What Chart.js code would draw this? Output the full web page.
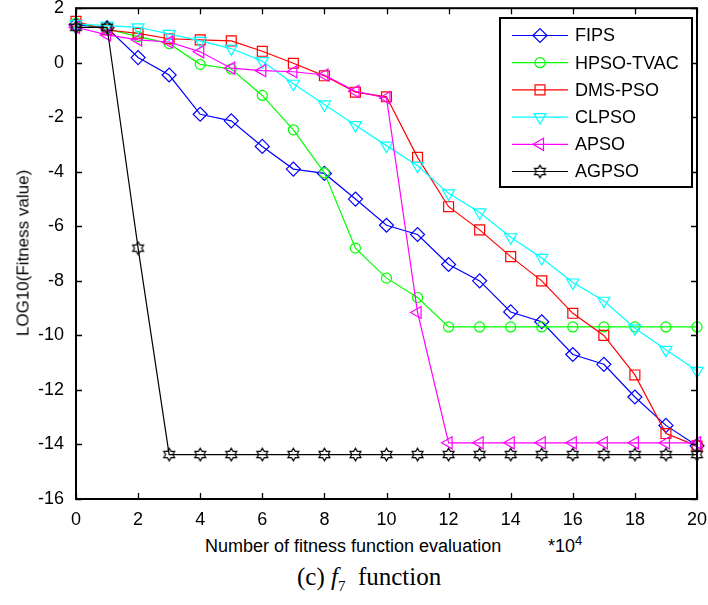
<!DOCTYPE html>
<html><head><meta charset="utf-8">
<script src="https://cdn.jsdelivr.net/npm/chart.js@4"></script>
<style>
html,body{margin:0;padding:0;background:#fff;}
body{width:708px;height:605px;overflow:hidden;position:relative;font-family:"Liberation Sans",Arial,sans-serif;color:#000;}
#wrap{position:absolute;left:0;top:0;width:708px;height:530px;}
.t{position:absolute;white-space:nowrap;color:#000;line-height:1;}
#ytitle{left:23px;top:253px;font-size:17px;transform:translate(-50%,-50%) rotate(-90deg);}
#xtitle{left:205px;top:537px;font-size:18px;}
#xmult{left:548px;top:537px;font-size:18px;}
#xmult sup{font-size:13px;vertical-align:0;position:relative;top:-7px;}
#caption{left:297px;top:564px;font-family:"Liberation Serif","Times New Roman",serif;font-size:25px;}
#caption sub{font-size:15px;vertical-align:0;position:relative;top:6px;}
</style></head><body>
<div id="wrap"><canvas id="c" width="708" height="530"></canvas></div>
<div class="t" id="ytitle">LOG10(Fitness value)</div>
<div class="t" id="xtitle">Number of fitness function evaluation</div>
<div class="t" id="xmult">*10<sup>4</sup></div>
<div class="t" id="caption">(c) <i>f</i><sub>7</sub>&nbsp; function</div>
<script>
// ---- data ----
const evaluations = [0,1,2,3,4,5,6,7,8,9,10,11,12,13,14,15,16,17,18,19,20];
const seriesNames = ["FIPS","HPSO-TVAC","DMS-PSO","CLPSO","APSO","AGPSO"];
const fips  = [1.40,1.28,0.19,-0.45,-1.89,-2.13,-3.07,-3.90,-4.06,-5.00,-5.96,-6.30,-7.40,-8.00,-9.14,-9.50,-10.70,-11.06,-12.26,-13.30,-14.05];
const hpso  = [1.45,1.24,0.96,0.70,-0.06,-0.23,-1.20,-2.46,-4.04,-6.80,-7.90,-8.61,-9.69,-9.69,-9.69,-9.69,-9.69,-9.69,-9.69,-9.69,-9.69];
const dms   = [1.52,1.20,1.08,0.88,0.84,0.80,0.42,-0.02,-0.48,-1.08,-1.25,-3.47,-5.28,-6.13,-7.11,-8.00,-9.19,-10.00,-11.45,-13.60,-14.05];
const clpso = [1.42,1.36,1.30,1.06,0.80,0.52,0.06,-0.77,-1.53,-2.29,-3.04,-3.78,-4.79,-5.49,-6.40,-7.16,-8.06,-8.73,-9.74,-10.53,-11.30];
const apso  = [1.30,1.02,0.84,0.76,0.40,-0.20,-0.29,-0.33,-0.45,-1.05,-1.29,-9.16,-13.94,-13.94,-13.94,-13.94,-13.94,-13.94,-13.94,-13.94,-13.94];
const agpso = [1.30,1.30,-6.80,-14.37,-14.37,-14.37,-14.37,-14.37,-14.37,-14.37,-14.37,-14.37,-14.37,-14.37,-14.37,-14.37,-14.37,-14.37,-14.37,-14.37,-14.37];
const xTicks = [0,2,4,6,8,10,12,14,16,18,20];
const yTicks = [-16,-14,-12,-10,-8,-6,-4,-2,0,2];

// hexagram marker
function hexagram(color){
  const c=document.createElement('canvas'); c.width=15; c.height=15;
  const g=c.getContext('2d'); g.strokeStyle=color; g.lineWidth=1.2;
  const cx=7.5, cy=7.5, R=6.3, r=R/Math.sqrt(3);
  g.beginPath();
  for(let k=0;k<12;k++){
    const a=-Math.PI/2 + k*Math.PI/6; const rr=(k%2===0)?R:r;
    const px=cx+rr*Math.cos(a), py=cy+rr*Math.sin(a);
    if(k===0) g.moveTo(px,py); else g.lineTo(px,py);
  }
  g.closePath(); g.stroke();
  return c;
}
const seriesValues=[fips,hpso,dms,clpso,apso,agpso];
const colors=['#0000ff','#00ff00','#ff0000','#00ffff','#ff00ff','#000000'];
const styles=['rectRot','circle','rect','triangle','triangle',hexagram('#000')];
const rotations=[0,0,0,180,-90,0];
const radii=[7,5,7,7,7,7];

const datasets=seriesNames.map((n,i)=>({
  label:n,
  data:evaluations.map((x,j)=>({x:x,y:seriesValues[i][j]})),
  borderColor:colors[i], backgroundColor:'rgba(0,0,0,0)',
  pointBorderColor:colors[i], pointBackgroundColor:'rgba(0,0,0,0)',
  borderWidth:1.2, pointBorderWidth:1.2,
  pointStyle:styles[i], pointRotation:rotations[i], pointRadius:radii[i],
  tension:0, order:6-i, clip:false
}));

const frame={
  id:'frame',
  afterDatasetsDraw(chart){
    const {ctx,chartArea:a,scales:{x,y}}=chart;
    ctx.save();
    ctx.strokeStyle='#000'; ctx.lineWidth=1.3;
    ctx.beginPath();
    xTicks.forEach(v=>{const px=Math.round(x.getPixelForValue(v))+0.5;
      ctx.moveTo(px,a.bottom); ctx.lineTo(px,a.bottom-6);
      ctx.moveTo(px,a.top); ctx.lineTo(px,a.top+6);});
    yTicks.forEach(v=>{const py=Math.round(y.getPixelForValue(v))+0.5;
      ctx.moveTo(a.left,py); ctx.lineTo(a.left+6,py);
      ctx.moveTo(a.right,py); ctx.lineTo(a.right-6,py);});
    ctx.stroke();
    ctx.lineWidth=2;
    ctx.strokeRect(a.left,a.top,a.right-a.left,a.bottom-a.top);
    // legend
    const L={x:500,y:18,w:192,h:169};
    ctx.fillStyle='#fff'; ctx.fillRect(L.x,L.y,L.w,L.h);
    ctx.strokeRect(L.x,L.y,L.w,L.h);
    ctx.font='18px "Liberation Sans", Arial, sans-serif';
    ctx.textBaseline='middle'; ctx.textAlign='left';
    chart.data.datasets.forEach((ds,i)=>{
      const yy=35.5+i*27.2;
      ctx.strokeStyle=ds.borderColor; ctx.lineWidth=1.2;
      ctx.beginPath(); ctx.moveTo(512,yy); ctx.lineTo(568,yy); ctx.stroke();
      ctx.fillStyle='rgba(0,0,0,0)'; ctx.strokeStyle=ds.borderColor; ctx.lineWidth=1.2;
      Chart.helpers.drawPoint(ctx,{pointStyle:ds.pointStyle,rotation:ds.pointRotation,radius:ds.pointRadius,borderWidth:1.2},540,yy);
      ctx.fillStyle='#000'; ctx.fillText(ds.label,575,yy+1);
    });
    ctx.restore();
  }
};

new Chart(document.getElementById('c'),{
  type:'line',
  data:{datasets},
  options:{
    responsive:false, animation:false, devicePixelRatio:1,
    layout:{padding:{left:0,right:11,top:8,bottom:0}},
    plugins:{legend:{display:false},tooltip:{enabled:false}},
    scales:{
      x:{type:'linear',min:0,max:20,
        afterBuildTicks(s){s.ticks=xTicks.map(v=>({value:v}));},
        afterFit(s){s.height=31;s.paddingLeft=0;s.paddingRight=0;},
        grid:{display:false},border:{display:false},
        ticks:{color:'#000',padding:2,maxRotation:0,autoSkip:false,font:{family:'"Liberation Sans", Arial, sans-serif',size:18}}},
      y:{type:'linear',min:-16,max:2,
        afterBuildTicks(s){s.ticks=yTicks.map(v=>({value:v}));},
        afterFit(s){s.width=76;s.paddingTop=0;s.paddingBottom=0;},
        grid:{display:false},border:{display:false},
        ticks:{color:'#000',padding:4,autoSkip:false,font:{family:'"Liberation Sans", Arial, sans-serif',size:18}}}
    }
  },
  plugins:[frame]
});
</script>
</body></html>
